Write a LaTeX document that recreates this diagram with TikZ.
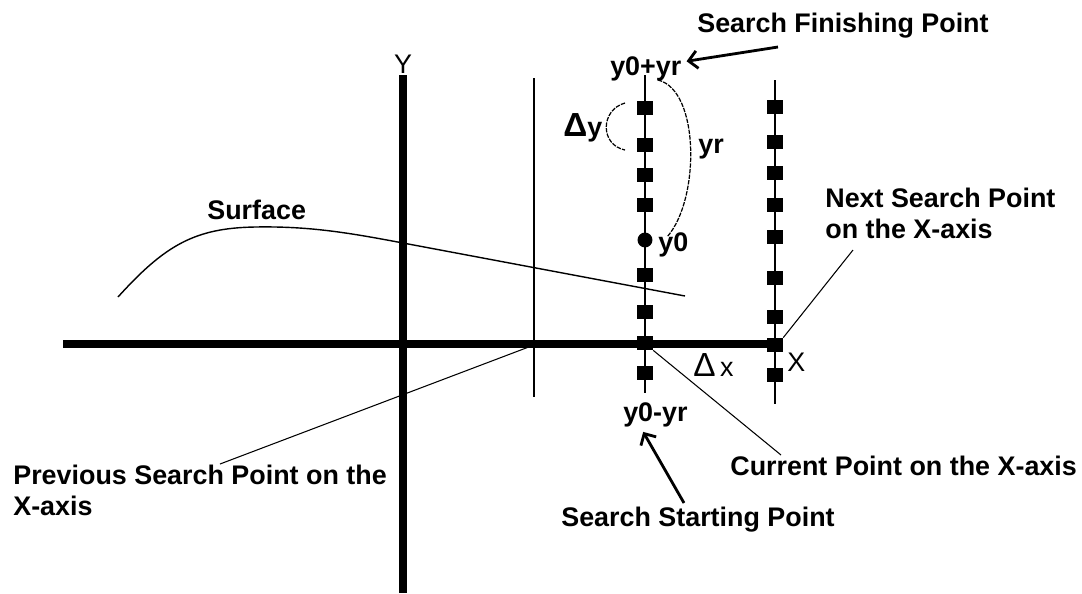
\documentclass[tikz,border=0pt]{standalone}
\usepackage{fontspec}
\setmainfont{Liberation Sans}
\usetikzlibrary{arrows.meta}

\begin{document}
\begin{tikzpicture}[x=0.02cm, y=-0.02cm,
    lbl/.style={inner sep=0pt, anchor=north west, align=left, font=\fontsize{15.3}{17.6}\selectfont\bfseries},
    axlbl/.style={inner sep=0pt, font=\fontsize{15.3}{17.6}\selectfont},
    sq/.style={fill=black, minimum width=9pt, minimum height=8pt, inner sep=0pt},
    dot/.style={circle, fill=black, minimum size=8.5pt, inner sep=0pt},
    axis/.style={line width=4.5pt},
    searchline/.style={line width=1.1pt},
    leader/.style={line width=0.6pt},
    arrowline/.style={line width=1.6pt, -{Straight Barb[length=5pt, width=10pt]}},
    brace/.style={line width=0.7pt, dash pattern=on 2.5pt off 0.7pt}]
    \useasboundingbox (0,0) rectangle (1082,593);

    % axes and the previous search line
    \draw[axis] (63,344) -- (782,344);
    \draw[axis] (403,75) -- (403,593);
    \draw[line width=0.85pt] (534,78) -- (534,397);
    \node[axlbl, anchor=north] (ylbl) at (403,55) {Y};
    \node[axlbl, anchor=north west] (xlbl) at (787,353) {X};

    % surface
    \draw[line width=0.8pt] (118,297) .. controls (165,245) and (195,228) .. (255,227)
        .. controls (310,226) and (350,233) .. (403,243) -- (685,296);
    \node[lbl] (surf) at (207,200) {Surface};

    % current and next search lines
    \draw[searchline] (645,75) -- (645,393);
    \draw[searchline] (775,80) -- (775,404);
    \foreach \y [count=\i] in {108,145,175,205,275,312,343,373}
        \node[sq] (cur\i) at (645,\y) {};
    \node[dot] (y0pt) at (645,240) {};
    \foreach \y [count=\i] in {107,142,173,205,237,278,317,345,375}
        \node[sq] (nxt\i) at (775,\y) {};

    % labels on the current line
    \node[lbl, outer sep=3pt] (yplus) at (605,51) {y0+yr};
    \node[lbl, outer sep=3pt] (yminus) at (618,397) {y0-yr};
    \node[lbl] (yzero) at (658,232) {y0};
    \node[lbl] (yr) at (698,139) {yr};
    \node[lbl, anchor=base west] (dy) at (563,136) {{\fontsize{19}{20}\selectfont Δ}y};
    \node[axlbl, anchor=north west] (dx) at (693,353) {{\fontsize{19}{20}\selectfont Δ}\,x};
    \draw[brace] (625,103) .. controls (600,110) and (600,145) .. (625,150);
    \draw[brace] (658,80) .. controls (700,90) and (700,200) .. (667,237);

    % captions
    \node[lbl] (fin) at (697,13) {Search Finishing Point};
    \node[lbl] (start) at (561,507) {Search Starting Point};
    \node[lbl] (curlbl) at (730,456) {Current Point on the X-axis};
    \node[lbl] (nxtlbl) at (825,188) {Next Search Point\\on the X-axis};
    \node[lbl] (prevlbl) at (13,465) {Previous Search Point on the\\X-axis};

    % arrows and leaders
    \coordinate (finTail) at (778,47);
    \coordinate (startTail) at (684,503);
    \coordinate (curTip) at (781,455);
    \coordinate (nxtTip) at (853,250);
    \coordinate (prevTip) at (220,464);
    \coordinate (prevPt) at (534,345);
    \draw[arrowline] (finTail) -- (yplus.10);
    \draw[arrowline] (startTail) -- (yminus.235);
    \draw[leader] (cur7.south east) -- (curTip);
    \draw[leader] (nxt8.north east) -- (nxtTip);
    \draw[leader] (prevTip) -- (prevPt);
\end{tikzpicture}
\end{document}
